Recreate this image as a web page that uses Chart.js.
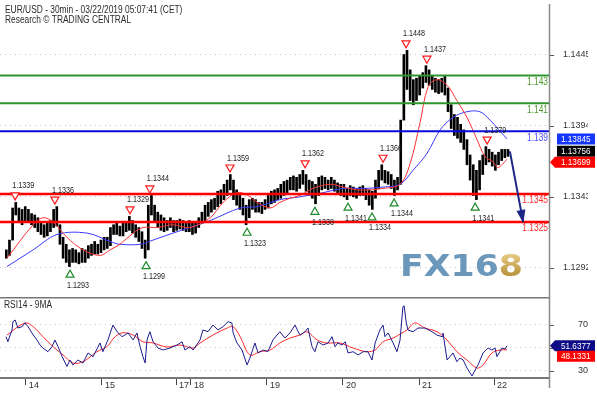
<!DOCTYPE html>
<html>
<head>
<meta charset="utf-8">
<title>EUR/USD 30min</title>
<script src="https://cdn.jsdelivr.net/npm/chart.js@4.4.1/dist/chart.umd.min.js"></script>
<style>
  html, body { margin: 0; padding: 0; background: #fff; }
  #wrap { position: relative; width: 597px; height: 394px; overflow: hidden; }
  #mainChart { position: absolute; left: 0; top: 0; }
  #rsiChart { position: absolute; left: 0; top: 297px; }
</style>
</head>
<body>
<div id="wrap">
  <canvas id="mainChart" width="597" height="297"></canvas>
  <canvas id="rsiChart" width="597" height="97"></canvas>
</div>
<script>
// time axis is in trading hours since the left edge of the chart
const xMin = 0, xMax = 174;
const dayTickHours = [8.2, 32.3, 55.8, 60.5, 84.6, 108.7, 132.8, 156.6];
const dayLabels = ['14', '15', '17', '18', '19', '20', '21', '22'];
const priceTicks = [1.1292, 1.1343, 1.1394, 1.1445];
const rsiTicks = [30, 50, 70];

// hourly bars, first bar at hour 2
const firstHour = 2;
const barHighs = [
  1.1305, 1.1312, 1.1335, 1.1339, 1.1335, 1.1334, 1.1336, 1.1334, 1.1331, 1.1330,
  1.1328, 1.1325, 1.1323, 1.1325, 1.1326, 1.1334, 1.1336, 1.1323, 1.1314, 1.1309,
  1.1305, 1.1306, 1.1305, 1.1303, 1.1306, 1.1305, 1.1308, 1.1309, 1.1311, 1.1309,
  1.1312, 1.1314, 1.1314, 1.1321, 1.1323, 1.1324, 1.1322, 1.1324, 1.1325, 1.1329,
  1.1326, 1.1323, 1.1321, 1.1318, 1.1312, 1.1337, 1.1344, 1.1337, 1.1332, 1.1330,
  1.1328, 1.1326, 1.1328, 1.1326, 1.1326, 1.1327, 1.1326, 1.1325, 1.1326, 1.1324,
  1.1325, 1.1328, 1.1332, 1.1337, 1.1339, 1.1341, 1.1342, 1.1347, 1.1348, 1.1352,
  1.1355, 1.1359, 1.1355, 1.1348, 1.1344, 1.1342, 1.1337, 1.1341, 1.1342, 1.1341,
  1.1339, 1.1339, 1.1341, 1.1344, 1.1347, 1.1348, 1.1349, 1.1352, 1.1354, 1.1355,
  1.1357, 1.1358, 1.1357, 1.1359, 1.1362, 1.1359, 1.1355, 1.1354, 1.1352, 1.1357,
  1.1358, 1.1357, 1.1355, 1.1357, 1.1355, 1.1353, 1.1352, 1.1352, 1.1349, 1.1351,
  1.1350, 1.1349, 1.1350, 1.1351, 1.1349, 1.1348, 1.1347, 1.1355, 1.1362, 1.1366,
  1.1362, 1.1361, 1.1359, 1.1355, 1.1357, 1.1398, 1.1445, 1.1448, 1.1434, 1.1427,
  1.1428, 1.1430, 1.1432, 1.1437, 1.1434, 1.1430, 1.1428, 1.1427, 1.1428, 1.1430,
  1.1421, 1.1409, 1.1402, 1.1400, 1.1395, 1.1391, 1.1384, 1.1373, 1.1366, 1.1362,
  1.1369, 1.1373, 1.1379, 1.1377, 1.1375, 1.1373, 1.1375, 1.1377, 1.1377, 1.1377
];
const barLows = [
  1.1299, 1.1301, 1.1312, 1.1330, 1.1325, 1.1323, 1.1326, 1.1325, 1.1323, 1.1321,
  1.1318, 1.1316, 1.1314, 1.1315, 1.1318, 1.1321, 1.1322, 1.1309, 1.1299, 1.1296,
  1.1293, 1.1296, 1.1296, 1.1295, 1.1296, 1.1296, 1.1299, 1.1301, 1.1302, 1.1302,
  1.1303, 1.1305, 1.1306, 1.1308, 1.1316, 1.1316, 1.1315, 1.1315, 1.1318, 1.1319,
  1.1317, 1.1314, 1.1311, 1.1306, 1.1299, 1.1305, 1.1330, 1.1325, 1.1321, 1.1319,
  1.1318, 1.1319, 1.1321, 1.1318, 1.1319, 1.1320, 1.1319, 1.1318, 1.1318, 1.1316,
  1.1317, 1.1321, 1.1324, 1.1326, 1.1329, 1.1332, 1.1334, 1.1336, 1.1338, 1.1341,
  1.1344, 1.1348, 1.1341, 1.1337, 1.1334, 1.1330, 1.1323, 1.1328, 1.1334, 1.1332,
  1.1332, 1.1331, 1.1334, 1.1335, 1.1338, 1.1339, 1.1341, 1.1342, 1.1344, 1.1346,
  1.1348, 1.1348, 1.1347, 1.1349, 1.1352, 1.1347, 1.1344, 1.1342, 1.1338, 1.1344,
  1.1348, 1.1349, 1.1348, 1.1349, 1.1347, 1.1345, 1.1344, 1.1343, 1.1341, 1.1344,
  1.1343, 1.1342, 1.1344, 1.1344, 1.1341, 1.1337, 1.1334, 1.1342, 1.1349, 1.1355,
  1.1353, 1.1352, 1.1349, 1.1344, 1.1348, 1.1352, 1.1398, 1.1420, 1.1412, 1.1409,
  1.1412, 1.1416, 1.1421, 1.1425, 1.1423, 1.1420, 1.1418, 1.1417, 1.1418, 1.1416,
  1.1404, 1.1392, 1.1387, 1.1385, 1.1382, 1.1377, 1.1366, 1.1355, 1.1344, 1.1341,
  1.1348, 1.1359, 1.1366, 1.1368, 1.1365, 1.1362, 1.1366, 1.1369, 1.1371, 1.1372
];

// moving averages on price
const redMaHours = [2.2, 10.5, 13.6, 16.8, 21.2, 26.3, 31.7, 34.9, 38.0, 42.2,
  45.3, 49.8, 54.8, 60.2, 66.6, 70.7, 75.1, 78.6, 81.5, 85.6,
  88.7, 91.9, 95.1, 99.2, 104.6, 108.7, 113.2, 117.3, 121.4, 126.8,
  130.0, 133.1, 135.7, 138.5, 141.7, 144.8, 148.0, 151.2, 153.7, 156.3, 157.8, 160.7];
const redMaValues = [1.1299, 1.1323, 1.1328, 1.1325, 1.1314, 1.1305, 1.1301, 1.1305, 1.1309, 1.1317,
  1.1321, 1.1321, 1.1323, 1.1321, 1.1328, 1.1339, 1.1346, 1.1344, 1.1339, 1.1335,
  1.1339, 1.1342, 1.1344, 1.1349, 1.1352, 1.1350, 1.1348, 1.1348, 1.1349, 1.1352,
  1.1367, 1.1396, 1.1422, 1.1427, 1.1423, 1.1412, 1.1400, 1.1384, 1.1372, 1.1368, 1.1364, 1.13699];
const blueMaHours = [2.2, 10.5, 18.1, 27.6, 34.9, 38.0, 44.4, 48.5, 54.8, 60.2,
  66.6, 76.1, 81.5, 88.7, 95.1, 102.4, 108.7, 115.1, 121.4, 126.8,
  130.9, 135.3, 139.5, 143.6, 148.0, 152.1, 155.3, 160.7];
const blueMaValues = [1.1293, 1.1305, 1.1316, 1.1317, 1.1311, 1.1309, 1.1309, 1.1312, 1.1317, 1.1321,
  1.1326, 1.1335, 1.1336, 1.1341, 1.1343, 1.1346, 1.1349, 1.1349, 1.1350, 1.1352,
  1.1362, 1.1374, 1.1391, 1.1400, 1.1404, 1.1404, 1.1398, 1.13845];

// support / resistance levels
const levelPrices = [1.143, 1.141, 1.139, 1.1345, 1.1325];
const levelLabels = ['1.143', '1.141', '1.139', '1.1345', '1.1325'];
const levelColors = ['#2f962f', '#2f962f', '#0a0ae0', '#ff0000', '#ff0000'];
const levelTextColors = ['#4f9a2f', '#4f9a2f', '#4a4aff', '#ff2a2a', '#ff2a2a'];

// swing highs / lows
const pivotHours = [4.8, 17.4, 22.2, 41.2, 46.3, 47.5, 72.9, 78.3, 96.7, 99.8, 110.3, 117.9, 121.4, 124.9, 128.7, 135.3, 150.6, 154.4];
const pivotPrices = [1.1339, 1.1336, 1.1293, 1.1329, 1.1299, 1.1344, 1.1359, 1.1323, 1.1362, 1.1338, 1.1341, 1.1334, 1.1366, 1.1344, 1.1448, 1.1437, 1.1341, 1.1379];
const pivotIsHigh = [true, true, false, true, false, true, true, false, true, false, false, false, true, false, true, true, false, true];

// projected move
const forecastHours = [161.6, 165.8];
const forecastPrices = [1.13756, 1.1325];

// last values shown on the right
const lastClose = 1.13756;
const lastBlueMa = 1.13845;
const lastRedMa = 1.13699;

// RSI(14) and its 9 period average
const rsiHours = [1.9, 2.5, 3.8, 4.1, 4.8, 5.7, 7.0, 7.9, 8.9, 10.1,
  11.7, 12.7, 13.6, 15.2, 16.5, 17.4, 18.4, 19.7, 21.2, 22.2,
  23.1, 24.7, 26.3, 27.9, 29.5, 31.7, 32.6, 34.2, 35.8, 37.1,
  38.7, 39.6, 40.6, 42.2, 43.4, 44.4, 45.3, 46.0, 46.6, 47.5,
  48.5, 50.1, 51.7, 53.9, 56.1, 57.7, 58.6, 60.2, 61.2, 63.4,
  64.3, 65.9, 67.5, 69.1, 70.7, 72.3, 73.5, 73.9, 75.1, 76.7,
  78.3, 79.2, 80.8, 81.8, 83.4, 84.9, 86.5, 88.7, 90.3, 91.9,
  93.5, 94.5, 95.1, 96.7, 97.6, 98.9, 99.8, 100.8, 102.4, 104.0,
  105.2, 106.2, 107.1, 108.4, 109.4, 110.3, 111.9, 113.5, 115.1, 116.6,
  117.9, 118.9, 120.4, 121.4, 122.0, 123.0, 124.6, 125.8, 126.8, 127.7,
  128.1, 128.7, 129.3, 130.9, 132.5, 134.7, 136.9, 138.5, 140.1, 140.4,
  141.7, 142.6, 143.6, 144.8, 145.8, 146.8, 148.0, 149.6, 150.6, 151.5,
  153.1, 154.7, 155.9, 156.9, 157.5, 159.1, 160.1, 160.7];
const rsiValues = [59.6, 55.2, 65.4, 72.6, 74.1, 67.1, 68.3, 71.5, 68.3, 62.8,
  56.7, 52.3, 49.7, 46.5, 50.9, 56.7, 50.9, 42.2, 33.7, 39.3,
  35.0, 39.3, 36.7, 45.4, 42.2, 54.1, 46.5, 56.7, 69.7, 63.9,
  59.6, 61.0, 62.8, 56.7, 62.8, 50.9, 42.2, 36.7, 56.7, 63.9,
  55.2, 49.7, 48.0, 49.7, 52.3, 55.2, 48.0, 50.9, 48.0, 56.7,
  65.4, 63.9, 69.7, 65.4, 68.3, 72.6, 71.5, 62.8, 54.1, 48.0,
  35.0, 41.0, 54.1, 45.4, 48.0, 46.5, 56.7, 63.9, 58.4, 62.8,
  69.7, 63.9, 61.0, 63.9, 67.1, 50.9, 46.5, 55.2, 52.3, 54.1,
  59.6, 50.9, 54.1, 52.3, 55.2, 45.4, 46.5, 43.7, 46.5, 46.5,
  39.3, 54.1, 65.4, 69.7, 59.6, 62.8, 54.1, 46.5, 56.7, 85.7,
  86.3, 72.6, 65.4, 63.9, 67.1, 67.1, 63.9, 61.0, 59.6, 62.8,
  39.3, 42.2, 45.4, 37.8, 41.0, 39.3, 32.3, 25.4, 30.6, 35.0,
  45.4, 49.7, 48.0, 49.7, 42.2, 49.7, 48.9, 51.6377];
const rsiMaHours = [2.2, 7.9, 10.5, 13.6, 16.8, 20.0, 23.1, 26.3, 30.7, 33.9,
  36.5, 39.0, 42.2, 45.3, 48.5, 52.9, 57.1, 61.2, 63.4, 67.5,
  72.0, 73.9, 76.1, 79.2, 82.4, 85.6, 88.7, 91.9, 95.1, 97.3,
  100.5, 103.6, 107.8, 111.9, 116.3, 118.9, 121.4, 124.6, 127.4, 129.0,
  131.5, 134.7, 138.5, 141.7, 144.8, 148.0, 151.2, 153.1, 155.9, 158.5, 160.7];
const rsiMaValues = [61.0, 71.5, 68.3, 59.6, 50.9, 43.7, 36.7, 37.8, 46.5, 50.9,
  59.6, 63.0, 61.0, 55.2, 54.1, 50.6, 52.3, 49.7, 54.1, 61.0,
  67.1, 68.3, 59.6, 43.7, 46.5, 48.0, 54.1, 58.4, 61.0, 63.9,
  56.7, 54.1, 54.1, 49.7, 46.5, 48.0, 55.2, 58.4, 62.8, 65.4,
  71.5, 67.1, 63.9, 56.7, 46.5, 39.3, 32.3, 35.0, 45.4, 48.0, 48.1331];

const FONT = "'Liberation Sans', Arial, sans-serif";

function pairs(xs, ys) {
  return xs.map((x, i) => ({ x: x, y: ys[i] }));
}

// text squeezed horizontally like the original bitmap font
function drawText(ctx, str, x, y, size, sx, color, align) {
  ctx.save();
  ctx.font = size + 'px ' + FONT;
  ctx.fillStyle = color;
  ctx.textBaseline = 'middle';
  ctx.textAlign = align || 'left';
  ctx.translate(x, y);
  ctx.scale(sx, 1);
  ctx.fillText(str, 0, 0);
  ctx.restore();
}

function hLine(ctx, x1, x2, y, color, w) {
  ctx.save();
  ctx.strokeStyle = color;
  ctx.lineWidth = w;
  ctx.beginPath();
  ctx.moveTo(x1, y);
  ctx.lineTo(x2, y);
  ctx.stroke();
  ctx.restore();
}

function vLine(ctx, x, y1, y2, color, w) {
  ctx.save();
  ctx.strokeStyle = color;
  ctx.lineWidth = w;
  ctx.beginPath();
  ctx.moveTo(x, y1);
  ctx.lineTo(x, y2);
  ctx.stroke();
  ctx.restore();
}

// value box at the right edge, optional arrow pointing at the axis
function valueBox(ctx, left, y, text, bg, arrow) {
  ctx.save();
  ctx.fillStyle = bg;
  ctx.beginPath();
  if (arrow) {
    ctx.moveTo(left, y);
    ctx.lineTo(left + 5, y - 5.5);
    ctx.lineTo(595, y - 5.5);
    ctx.lineTo(595, y + 5.5);
    ctx.lineTo(left + 5, y + 5.5);
  } else {
    ctx.rect(left + 7, y - 5.5, 595 - left - 7, 11);
  }
  ctx.closePath();
  ctx.fill();
  ctx.restore();
  drawText(ctx, text, left + 11, y + 0.5, 9.5, 0.86, '#fff', 'left');
}

// stack boxes so they do not overlap
function stackBoxes(ys, gap) {
  const out = ys.slice();
  for (let i = 1; i < out.length; i++) {
    if (out[i] < out[i - 1] + gap) out[i] = out[i - 1] + gap;
  }
  return out;
}

// keep the plot area fixed: the axis box has a set size and adds no padding
function fixAxis(width, height) {
  return s => {
    if (width) s.width = width;
    if (height) s.height = height;
    s.paddingTop = 0;
    s.paddingBottom = 0;
    s.paddingLeft = 0;
    s.paddingRight = 0;
  };
}

const mainOverlay = {
  id: 'mainOverlay',
  beforeDatasetsDraw(chart) {
    const ctx = chart.ctx;
    // FX168 watermark
    ctx.save();
    ctx.font = 'bold 30px "DejaVu Sans", sans-serif';
    ctx.textBaseline = 'alphabetic';
    const wAll = ctx.measureText('FX168').width;
    const wHead = ctx.measureText('FX16').width;
    const sx = 123 / wAll;
    ctx.translate(400, 276);
    ctx.scale(sx, 1);
    ctx.fillStyle = '#6b97ba';
    ctx.fillText('FX16', 0, 0);
    const g = ctx.createLinearGradient(0, -22, 0, 0);
    g.addColorStop(0, '#e6cb85');
    g.addColorStop(1, '#b8913a');
    ctx.fillStyle = g;
    ctx.fillText('8', wHead, 0);
    ctx.restore();
  },
  afterDatasetsDraw(chart) {
    const ctx = chart.ctx;
    const xs = chart.scales.x, ys = chart.scales.y;
    const area = chart.chartArea;

    // header
    drawText(ctx, 'EUR/USD - 30min - 03/22/2019 05:07:41 (CET)', 5, 10, 10, 0.84, '#2a2a2a');
    drawText(ctx, 'Research \u00a9 TRADING CENTRAL', 5, 20.5, 10, 0.84, '#2a2a2a');

    // level labels under each line
    levelPrices.forEach((p, i) => {
      drawText(ctx, levelLabels[i], area.right - 1, ys.getPixelForValue(p) + 6.5, 10, 0.84, levelTextColors[i], 'right');
    });

    // swing markers
    pivotHours.forEach((h, i) => {
      const px = xs.getPixelForValue(h);
      const py = ys.getPixelForValue(pivotPrices[i]);
      const hi = pivotIsHigh[i];
      const cy = hi ? py - 6 : py + 7;
      ctx.save();
      ctx.beginPath();
      if (hi) {
        ctx.moveTo(px - 4, cy - 3.5);
        ctx.lineTo(px + 4, cy - 3.5);
        ctx.lineTo(px, cy + 3.5);
      } else {
        ctx.moveTo(px - 4, cy + 3.5);
        ctx.lineTo(px + 4, cy + 3.5);
        ctx.lineTo(px, cy - 3.5);
      }
      ctx.closePath();
      ctx.fillStyle = '#fff';
      ctx.fill();
      ctx.lineWidth = 1.2;
      ctx.strokeStyle = hi ? '#ff1a1a' : '#1f8a2a';
      ctx.stroke();
      ctx.restore();
      const ly = hi ? cy - 10.5 : cy + 11.5;
      drawText(ctx, pivotPrices[i].toFixed(4), px - 3, ly, 9, 0.8, '#222');
    });

    // arrow head of the projection
    const n = forecastHours.length;
    const ax = xs.getPixelForValue(forecastHours[n - 2]), ay = ys.getPixelForValue(forecastPrices[n - 2]);
    const bx = xs.getPixelForValue(forecastHours[n - 1]), by = ys.getPixelForValue(forecastPrices[n - 1]);
    const ang = Math.atan2(by - ay, bx - ax);
    ctx.save();
    ctx.translate(bx, by);
    ctx.rotate(ang);
    ctx.beginPath();
    ctx.moveTo(1, 0);
    ctx.lineTo(-12, -4.5);
    ctx.lineTo(-12, 4.5);
    ctx.closePath();
    ctx.fillStyle = '#1c2584';
    ctx.fill();
    ctx.restore();

    // right axis line and tick marks
    vLine(ctx, area.right + 0.5, 4, chart.height, '#8a8a8a', 1.5);
    priceTicks.forEach(v => {
      hLine(ctx, area.right + 1, area.right + 5, Math.round(ys.getPixelForValue(v)) + 0.5, '#555', 1);
    });

    // current values
    const yb = stackBoxes([lastBlueMa, lastClose, lastRedMa].map(v => ys.getPixelForValue(v)), 11);
    valueBox(ctx, area.right + 1, yb[0], lastBlueMa.toFixed(5), '#1436ff', false);
    valueBox(ctx, area.right + 1, yb[1], lastClose.toFixed(5), '#000', false);
    valueBox(ctx, area.right + 1, yb[2], lastRedMa.toFixed(5), '#ff0000', true);
  }
};

const rsiOverlay = {
  id: 'rsiOverlay',
  afterDatasetsDraw(chart) {
    const ctx = chart.ctx;
    const ys = chart.scales.y;
    const area = chart.chartArea;
    hLine(ctx, 0, area.right, 0.75, '#777', 1.5);
    vLine(ctx, area.right + 0.5, 0, 91, '#8a8a8a', 1.5);
    drawText(ctx, 'RSI14 - 9MA', 4, 8, 10, 0.84, '#2a2a2a');
    rsiTicks.forEach(v => {
      hLine(ctx, area.right + 1, area.right + 5, Math.round(ys.getPixelForValue(v)) + 0.5, '#555', 1);
    });
    const last = rsiValues[rsiValues.length - 1];
    const lastMa = rsiMaValues[rsiMaValues.length - 1];
    const yb = stackBoxes([last, lastMa].map(v => ys.getPixelForValue(v)), 10.5);
    valueBox(ctx, area.right + 1, yb[0], last.toFixed(4), '#0c0c86', true);
    valueBox(ctx, area.right + 1, yb[1], lastMa.toFixed(4), '#ff0000', false);
  }
};

const candleData = barHighs.map((h, i) => ({ x: firstHour + i, y: [barLows[i], h] }));

const levelSets = levelPrices.map((p, i) => ({
  type: 'line',
  data: [{ x: xMin, y: p }, { x: xMax, y: p }],
  borderColor: levelColors[i],
  borderWidth: i > 2 ? 2.5 : 2,
  pointRadius: 0,
  order: 2
}));

new Chart(document.getElementById('mainChart'), {
  type: 'bar',
  data: {
    datasets: [
      {
        type: 'bar',
        data: candleData,
        backgroundColor: '#000',
        borderWidth: 0,
        barThickness: 2,
        order: 6
      },
      {
        type: 'line',
        data: pairs(blueMaHours, blueMaValues),
        borderColor: '#3a3aff',
        borderWidth: 1,
        pointRadius: 0,
        tension: 0.35,
        order: 4
      },
      {
        type: 'line',
        data: pairs(redMaHours, redMaValues),
        borderColor: '#ff3030',
        borderWidth: 1,
        pointRadius: 0,
        tension: 0.35,
        order: 3
      },
      ...levelSets,
      {
        type: 'line',
        data: pairs(forecastHours, forecastPrices),
        borderColor: '#1c2584',
        borderWidth: 2,
        pointRadius: 0,
        order: 1
      }
    ]
  },
  options: {
    responsive: false,
    animation: false,
    devicePixelRatio: 1,
    layout: { padding: { left: 0, right: 9, top: 0, bottom: 0 }, autoPadding: false },
    plugins: { legend: { display: false }, tooltip: { enabled: false } },
    scales: {
      x: { type: 'linear', min: xMin, max: xMax, offset: false, display: false },
      y: {
        position: 'right',
        min: 1.12712,
        max: 1.14841,
        afterFit: fixAxis(39, 0),
        afterBuildTicks: s => { s.ticks = priceTicks.map(v => ({ value: v })); },
        ticks: {
          padding: 14,
          crossAlign: 'near',
          color: '#333',
          font: { size: 9, family: FONT },
          callback: v => Number(v).toFixed(4)
        },
        grid: { color: '#c4c4c4', drawTicks: false, lineWidth: 1 },
        border: { display: false, dash: [1, 4] }
      }
    }
  },
  plugins: [mainOverlay]
});

new Chart(document.getElementById('rsiChart'), {
  type: 'line',
  data: {
    datasets: [
      {
        data: pairs(rsiMaHours, rsiMaValues),
        borderColor: '#ff2a2a',
        borderWidth: 1,
        pointRadius: 0,
        tension: 0.35,
        order: 2
      },
      {
        data: pairs(rsiHours, rsiValues),
        borderColor: '#1b1b8e',
        borderWidth: 1,
        pointRadius: 0,
        tension: 0,
        order: 1
      }
    ]
  },
  options: {
    responsive: false,
    animation: false,
    devicePixelRatio: 1,
    layout: { padding: { left: 0, right: 9, top: 1, bottom: 0 }, autoPadding: false },
    plugins: { legend: { display: false }, tooltip: { enabled: false } },
    scales: {
      x: {
        type: 'linear',
        min: xMin,
        max: xMax,
        offset: false,
        position: 'bottom',
        afterFit: fixAxis(0, 16),
        afterBuildTicks: s => { s.ticks = dayTickHours.map(v => ({ value: v })); },
        ticks: {
          autoSkip: false,
          maxRotation: 0,
          align: 'start',
          labelOffset: 3,
          padding: -5,
          color: '#333',
          font: { size: 9, family: FONT },
          callback: (v, i) => dayLabels[i]
        },
        grid: { drawOnChartArea: false, drawTicks: true, tickLength: 7, color: '#444' },
        border: { display: true, color: '#777', width: 2 }
      },
      y: {
        position: 'right',
        min: 23.65,
        max: 93.2,
        afterFit: fixAxis(39, 0),
        afterBuildTicks: s => { s.ticks = rsiTicks.map(v => ({ value: v })); },
        ticks: {
          padding: 29,
          crossAlign: 'near',
          color: '#333',
          font: { size: 9, family: FONT },
          callback: v => (v === 50 ? '' : String(v))
        },
        grid: { color: '#c4c4c4', drawTicks: false, lineWidth: 1 },
        border: { display: false, dash: [1, 4] }
      }
    }
  },
  plugins: [rsiOverlay]
});
</script>
</body>
</html>
